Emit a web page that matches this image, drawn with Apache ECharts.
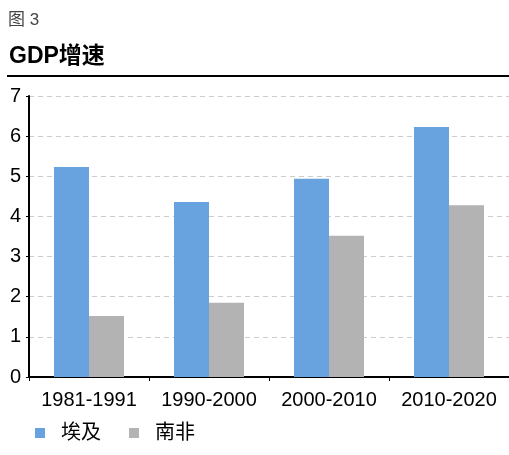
<!DOCTYPE html>
<html>
<head>
<meta charset="utf-8">
<script src="https://cdn.jsdelivr.net/npm/echarts@6/dist/echarts.min.js"></script>
<style>
html, body { margin: 0; padding: 0; background: #fff; }
#chart { width: 509px; height: 455px; }
</style>
</head>
<body>
<div id="chart"></div>
<script>
var periods = ['1981-1991', '1990-2000', '2000-2010', '2010-2020'];
var egypt = [5.23, 4.36, 4.94, 6.23];
var southAfrica = [1.52, 1.85, 3.52, 4.28];
var seriesNames = ['埃及', '南非'];

var font = '"Liberation Sans", Arial, "Noto Sans CJK SC", sans-serif';

var chart = echarts.init(document.getElementById('chart'));

var option = {
    animation: false,
    textStyle: { fontFamily: font },
    title: [{
        text: '图 3',
        left: 8,
        top: 12,
        padding: 0,
        textStyle: { fontSize: 17, fontWeight: 'normal', color: '#444', fontFamily: font }
    }, {
        text: 'GDP增速',
        left: 9,
        top: 45,
        padding: 0,
        textStyle: { fontSize: 23, fontWeight: 'bold', color: '#000', fontFamily: font }
    }],
    graphic: [{
        type: 'line',
        shape: { x1: 7, y1: 76, x2: 509, y2: 76 },
        style: { stroke: '#000', lineWidth: 2 }
    }],
    legend: {
        data: seriesNames,
        left: 35,
        top: 423,
        padding: 0,
        icon: 'rect',
        itemWidth: 10,
        itemHeight: 10,
        itemGap: 28,
        textStyle: { fontSize: 20, color: '#000', padding: [0, 0, 0, 11], fontFamily: font }
    },
    grid: {
        left: 29,
        right: -2,
        top: 96,
        bottom: 78,
        containLabel: false
    },
    xAxis: {
        type: 'category',
        data: periods,
        axisLine: { lineStyle: { color: '#000', width: 2 } },
        axisTick: { show: true, length: 4, lineStyle: { color: '#000', width: 1 } },
        axisLabel: { fontSize: 20, color: '#000', margin: 13, interval: 0, fontFamily: font }
    },
    yAxis: {
        type: 'value',
        min: 0,
        max: 7,
        interval: 1,
        axisLine: { show: true, lineStyle: { color: '#000', width: 2 } },
        axisTick: { show: true, length: 3, lineStyle: { color: '#000', width: 1 } },
        axisLabel: { fontSize: 20, color: '#000', margin: 8, fontFamily: font },
        splitLine: { show: true, lineStyle: { color: '#cccccc', type: [5, 4], width: 1 } }
    },
    series: [{
        name: seriesNames[0],
        type: 'bar',
        data: egypt,
        barWidth: 35,
        barGap: '0%',
        itemStyle: { color: '#68a3e0' }
    }, {
        name: seriesNames[1],
        type: 'bar',
        data: southAfrica,
        barWidth: 35,
        barGap: '0%',
        itemStyle: { color: '#b3b3b3' }
    }]
};

chart.setOption(option);
</script>
</body>
</html>
